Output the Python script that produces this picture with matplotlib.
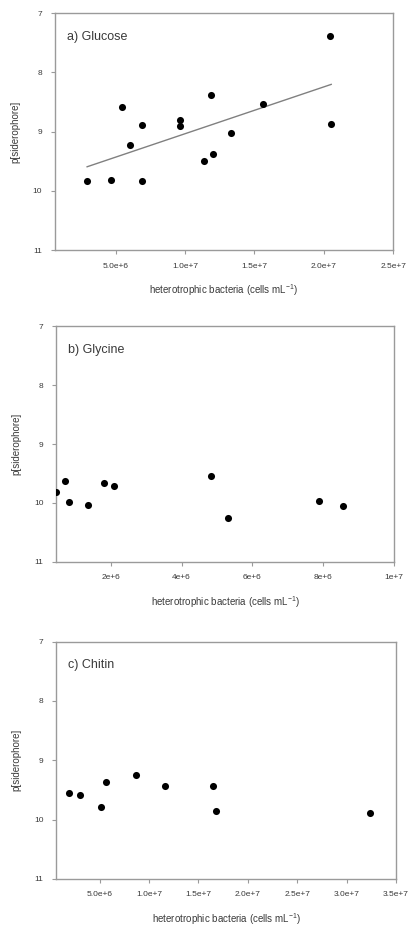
import numpy as np
import matplotlib
matplotlib.use("Agg")
import matplotlib.pyplot as plt

plt.rcParams['font.family'] = ['Liberation Sans', 'DejaVu Sans']

# a) Glucose
glu_x = [2.93e6, 4.62e6, 5.45e6, 6.02e6, 6.90e6, 6.86e6, 9.62e6, 9.62e6,
         11.86e6, 11.33e6, 12.0e6, 13.28e6, 15.64e6, 20.45e6, 20.54e6]
glu_y = [9.83, 9.81, 8.59, 9.23, 8.89, 9.84, 8.80, 8.90,
         8.38, 9.49, 9.38, 9.03, 8.54, 7.38, 8.88]

# b) Glycine
gly_x = [0.455e6, 0.71e6, 0.815e6, 1.355e6, 1.82e6, 2.09e6, 4.84e6, 5.32e6, 7.87e6, 8.56e6]
gly_y = [9.82, 9.62, 9.99, 10.03, 9.66, 9.71, 9.54, 10.26, 9.97, 10.05]

# c) Chitin
chi_x = [1.86e6, 3.0e6, 5.09e6, 5.60e6, 8.70e6, 11.6e6, 16.43e6, 16.8e6, 32.4e6]
chi_y = [9.56, 9.58, 9.78, 9.37, 9.24, 9.44, 9.44, 9.85, 9.89]

ticks_a = [5e6, 1e7, 1.5e7, 2e7, 2.5e7]
labels_a = ["5.0e+6", "1.0e+7", "1.5e+7", "2.0e+7", "2.5e+7"]
ticks_b = [2e6, 4e6, 6e6, 8e6, 1e7]
labels_b = ["2e+6", "4e+6", "6e+6", "8e+6", "1e+7"]
ticks_c = [5e6, 1e7, 1.5e7, 2e7, 2.5e7, 3e7, 3.5e7]
labels_c = ["5.0e+6", "1.0e+7", "1.5e+7", "2.0e+7", "2.5e+7", "3.0e+7", "3.5e+7"]

fig = plt.figure(figsize=(4.09, 9.30), dpi=100)

panels = [
    ([0.134, 0.731, 0.827, 0.255], glu_x, glu_y, "a) Glucose", (6.0e5, 2.5e7), ticks_a, labels_a, True),
    ([0.137, 0.396, 0.826, 0.253], gly_x, gly_y, "b) Glycine", (4.5e5, 1e7), ticks_b, labels_b, False),
    ([0.137, 0.055, 0.831, 0.255], chi_x, chi_y, "c) Chitin", (5.7e5, 3.5e7), ticks_c, labels_c, False),
]

gray = '#9a9a9a'
txt = '#3a3a3a'
for rect, x, y, name, xl, tks, tls, fit in panels:
    ax = fig.add_axes(rect)
    ax.scatter(x, y, s=26, color='black', zorder=3, linewidths=0)
    if fit:
        m, b = np.polyfit(x, y, 1)
        xx = np.array([min(x), max(x)])
        ax.plot(xx, m * xx + b, color='#808080', lw=1.0)
    ax.set_xlim(*xl)
    ax.set_ylim(11, 7)
    ax.set_yticks([7, 8, 9, 10, 11])
    ax.set_xticks(tks)
    ax.set_xticklabels(tls)
    for s in ax.spines.values():
        s.set_color(gray)
        s.set_linewidth(1.0)
    ax.tick_params(direction='out', length=3, width=0.8, color=gray,
                   labelsize=6, labelcolor=txt, pad=6)
    ax.text(0.035, 0.9, name, transform=ax.transAxes, fontsize=9, color=txt,
            ha='left', va='center')
    ax.set_xlabel(r"heterotrophic bacteria (cells mL$^{\mathregular{-1}}$)",
                  fontsize=7, color=txt, labelpad=9)
    ax.set_ylabel("p[siderophore]", fontsize=7, color=txt, labelpad=9)

fig.savefig("out.png", dpi=100)
